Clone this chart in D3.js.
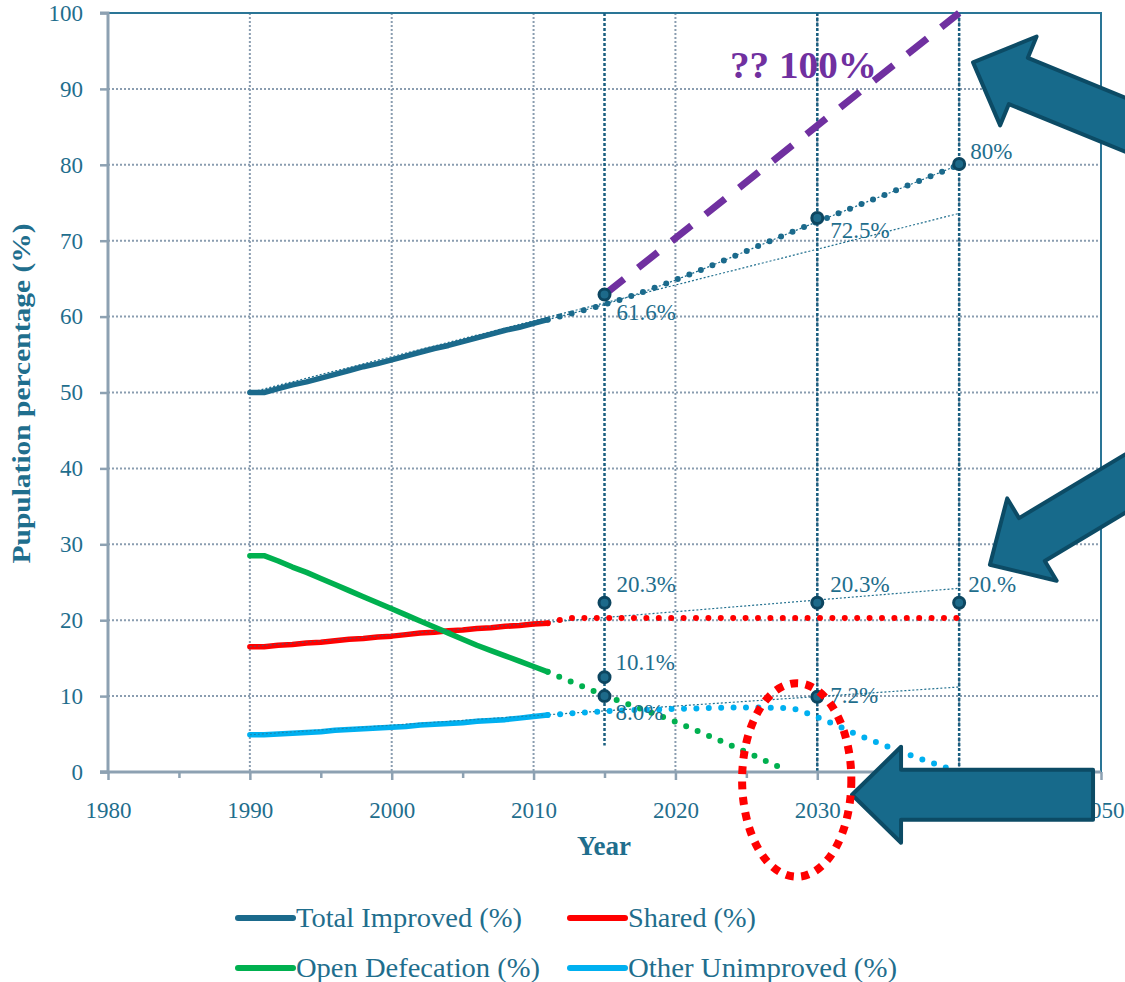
<!DOCTYPE html>
<html>
<head>
<meta charset="utf-8">
<script src="https://cdn.jsdelivr.net/npm/d3@7"></script>
<style>
  html, body { margin: 0; padding: 0; background: #ffffff; }
  svg { display: block; }
</style>
</head>
<body>
<svg id="chart" width="1125" height="982"></svg>
<script>
// ---- Observed series, 1990-2011 (% of population) ----
const years = [1990,1991,1992,1993,1994,1995,1996,1997,1998,1999,2000,
               2001,2002,2003,2004,2005,2006,2007,2008,2009,2010,2011];
const totalImproved   = [50.0,50.0,50.5,51.0,51.4,51.9,52.4,52.9,53.4,53.8,54.3,
                         54.8,55.3,55.8,56.2,56.7,57.2,57.7,58.2,58.6,59.1,59.6];
const shared          = [16.5,16.5,16.7,16.8,17.0,17.1,17.3,17.5,17.6,17.8,17.9,
                         18.1,18.3,18.4,18.6,18.7,18.9,19.0,19.2,19.3,19.5,19.6];
const openDefecation  = [28.5,28.5,27.8,27.0,26.3,25.5,24.7,23.9,23.1,22.3,21.5,
                         20.7,19.9,19.1,18.3,17.5,16.7,16.0,15.3,14.6,13.9,13.2];
const otherUnimproved = [4.9,4.9,5.0,5.1,5.2,5.3,5.5,5.6,5.7,5.8,5.9,
                         6.0,6.2,6.3,6.4,6.5,6.7,6.8,6.9,7.1,7.3,7.5];

// ---- Projections [year, %] ----
const projTotal  = [[2011,59.6],[2015,61.6],[2030,72.5],[2040,80.0]];
const projShared = [[2011,19.6],[2013,20.3],[2015,20.3],[2030,20.3],[2040,20.3]];
const projOpen   = [[2011,13.2],[2015,10.1],[2020,6.6],[2025,2.6],[2027.5,0.5]];
const projOther  = [[2011,7.5],[2015,8.0],[2020,8.3],[2025,8.5],[2028,8.4],
                    [2030,7.2],[2033,4.8],[2036,2.6],[2040,0.0]];

// ---- Linear trends 1990-2040 ----
const trendTotal  = [[1990,50.0],[2040,73.6]];
const trendShared = [[1990,16.5],[2040,24.2]];
const trendOther  = [[1990,4.9],[2040,11.2]];

// ---- Universal-access target ----
const target100 = [[2015,62.9],[2040,100]];

// ---- Milestone markers ----
const milestoneYears = [2015, 2030, 2040];
const markersTotal  = [[2015,62.9],[2030,73.0],[2040,80.1]];
const markersShared = [[2015,22.3],[2030,22.3],[2040,22.3]];
const markersOpen   = [[2015,12.5]];
const markersOther  = [[2015,10.0],[2030,9.9]];

// ---- Value labels (year, stated value, text) ----
const labelYears  = [2015, 2030, 2040, 2015, 2030, 2040, 2015, 2015, 2030];
const labelValues = [61.6, 72.5, 80.0, 20.3, 20.3, 20.3, 10.1, 8.0, 7.2];
const labelTexts  = ["61.6%","72.5%","80%","20.3%","20.3%","20.%","10.1%","8.0%","7.2%"];

// ---- Axis ticks ----
const xTicks = [1980,1990,2000,2010,2020,2030,2040,2050];
const xMinorTicks = [1985,1995,2005,2015,2025,2035,2045];
const yTicks = [0,10,20,30,40,50,60,70,80,90,100];

// ---- Legend ----
const legendNames  = ["Total Improved (%)","Shared (%)","Open Defecation (%)","Other Unimproved (%)"];
const legendColors = ["#1b6a8c","#ff0000","#00b04f","#00b0f0"];

// ======================================================================
const svg = d3.select("#chart");
const FONT = "'Liberation Serif','DejaVu Serif',serif";
const TEXT = "#1f6e8d";
const GRID = "#8a9db0";

const x = d3.scaleLinear().domain([1980, 2050]).range([108, 1101]);
const y = d3.scaleLinear().domain([0, 100]).range([772, 13]);

const line = d3.line().x(d => x(d[0])).y(d => y(d[1]));
const smooth = d3.line().x(d => x(d[0])).y(d => y(d[1])).curve(d3.curveMonotoneX);

// gridlines
const grid = svg.append("g");
grid.selectAll("line.h").data(yTicks.filter(v => v > 0 && v < 100)).join("line")
  .attr("x1", x(1980)).attr("x2", x(2050))
  .attr("y1", d => y(d)).attr("y2", d => y(d))
  .attr("stroke", GRID).attr("stroke-width", 2).attr("stroke-dasharray", "2 2");
grid.selectAll("line.v").data(xTicks.filter(v => v > 1980 && v < 2050)).join("line")
  .attr("x1", d => x(d)).attr("x2", d => x(d))
  .attr("y1", y(100)).attr("y2", y(0))
  .attr("stroke", GRID).attr("stroke-width", 2).attr("stroke-dasharray", "2 2");

// frame: top and right
svg.append("path")
  .attr("d", `M${x(1980)},${y(100)}H${x(2050)}V${y(0)}`)
  .attr("fill", "none").attr("stroke", "#2a7596").attr("stroke-width", 2);

// milestone verticals
svg.append("g").selectAll("line").data(milestoneYears).join("line")
  .attr("x1", d => x(d)).attr("x2", d => x(d))
  .attr("y1", y(100)).attr("y2", d => d === 2015 ? y(3.5) : y(0))
  .attr("stroke", "#1a5f80").attr("stroke-width", 2.5).attr("stroke-dasharray", "3 2");

// axes
const yAxis = svg.append("g").attr("transform", `translate(${x(1980)},0)`)
  .call(d3.axisLeft(y).tickValues(yTicks).tickSize(8).tickPadding(17).tickFormat(d3.format("d")));
const xAxis = svg.append("g").attr("transform", `translate(0,${y(0)})`)
  .call(d3.axisBottom(x).tickValues(xTicks).tickSize(8).tickPadding(22).tickFormat(d3.format("d")));
const xMinor = svg.append("g").attr("transform", `translate(0,${y(0)})`)
  .call(d3.axisBottom(x).tickValues(xMinorTicks).tickSize(6).tickFormat(""));
xMinor.select(".domain").remove();
[yAxis, xAxis, xMinor].forEach(g => {
  g.select(".domain").attr("stroke", "#8da1b2").attr("stroke-width", 3);
  g.selectAll(".tick line").attr("stroke", "#8da1b2").attr("stroke-width", 2.5);
  g.selectAll(".tick text").attr("fill", TEXT).style("font-family", FONT).style("font-size", "23px");
});
yAxis.select(".domain").attr("d", `M-8,${y(100)}H0V${y(0)}H-8`);
xAxis.select(".domain").attr("d", `M${x(1980) - 8},0H${x(2050)}`);

// axis titles
svg.append("text")
  .attr("transform", `translate(30,${(y(0) + y(100)) / 2 + 1}) rotate(-90)`)
  .attr("text-anchor", "middle")
  .attr("textLength", 340).attr("lengthAdjust", "spacingAndGlyphs")
  .style("font-family", FONT).style("font-size", "25px").style("font-weight", "bold")
  .attr("fill", TEXT).text("Pupulation percentage (%)");
svg.append("text")
  .attr("x", 604).attr("y", 855).attr("text-anchor", "middle")
  .style("font-family", FONT).style("font-size", "27px").style("font-weight", "bold")
  .attr("fill", TEXT).text("Year");

// linear trends
const trendG = svg.append("g");
[trendTotal, trendShared, trendOther].forEach(t => {
  trendG.append("path").attr("d", line(t))
    .attr("fill", "none").attr("stroke", "#22708f").attr("stroke-width", 1.2)
    .attr("stroke-dasharray", "2 2");
});

// observed series
const observed = [totalImproved, shared, openDefecation, otherUnimproved];
observed.forEach((vals, i) => {
  svg.append("path")
    .attr("d", line(years.map((yr, k) => [yr, vals[k]])))
    .attr("fill", "none").attr("stroke", legendColors[i]).attr("stroke-width", 5.5)
    .attr("stroke-linecap", "round").attr("stroke-linejoin", "round");
});
// trend stays visible through the lighter bands
[trendShared, trendOther].forEach(t => {
  svg.append("path").attr("d", line([t[0], [2011, t[0][1] + (t[1][1] - t[0][1]) * 21 / 50]]))
    .attr("fill", "none").attr("stroke", "#22708f").attr("stroke-width", 1)
    .attr("stroke-dasharray", "2 2").attr("opacity", 0.7);
});

// projections (round-dot lines)
svg.append("path").attr("d", smooth(projTotal))
  .attr("fill", "none").attr("stroke", legendColors[0]).attr("stroke-width", 1.2)
  .attr("stroke-dasharray", "2 2");
[projTotal, projShared, projOpen, projOther].forEach((p, i) => {
  svg.append("path").attr("d", smooth(p))
    .attr("fill", "none").attr("stroke", legendColors[i]).attr("stroke-width", 6)
    .attr("stroke-linecap", "round").attr("stroke-dasharray", "0 12.4");
});

// 100% target
svg.append("path").attr("d", line(target100))
  .attr("fill", "none").attr("stroke", "#7030a0").attr("stroke-width", 7)
  .attr("stroke-dasharray", "25 18");
svg.append("text")
  .attr("x", 730).attr("y", 78)
  .attr("textLength", 147).attr("lengthAdjust", "spacingAndGlyphs")
  .style("font-family", FONT).style("font-size", "37px").style("font-weight", "bold")
  .attr("fill", "#7030a0").text("?? 100%");

// milestone markers
const markG = svg.append("g");
[markersTotal, markersShared, markersOpen, markersOther].forEach(m => {
  markG.selectAll(null).data(m).join("circle")
    .attr("cx", d => x(d[0])).attr("cy", d => y(d[1])).attr("r", 5.5)
    .attr("fill", "#1d6a8a").attr("stroke", "#0d4660").attr("stroke-width", 3);
});

// value labels
const labelShift = [[12,16],[13,16],[11,-6],[12,-26],[13,-26],[9,-26],[11,-25],[11,9],[13,-14]];
svg.append("g").selectAll("text").data(labelTexts).join("text")
  .attr("x", (d, i) => x(labelYears[i]) + labelShift[i][0])
  .attr("y", (d, i) => y(labelValues[i]) + labelShift[i][1])
  .style("font-family", FONT).style("font-size", "23px")
  .attr("fill", TEXT).text(d => d);

// call-out arrows
function arrowPath(tx, ty, angleDeg, len) {
  const a = angleDeg * Math.PI / 180;
  const ux = Math.cos(a), uy = Math.sin(a), nx = -uy, ny = ux;
  const head = 49, headHalf = 48, shaftHalf = 25;
  const P = (al, pe) => [tx + ux * al + nx * pe, ty + uy * al + ny * pe];
  const pts = [P(0, 0), P(head, -headHalf), P(head, -shaftHalf), P(len, -shaftHalf),
               P(len, shaftHalf), P(head, shaftHalf), P(head, headHalf)];
  return "M" + pts.map(p => p.join(",")).join("L") + "Z";
}
const arrowNotes = [
  { year: 2040.98, value: 93.5, angle: 22.3, len: 230 },
  { year: 2042.17, value: 27.3, angle: -31, len: 230 },
  { year: 2032.45, value: -3.0, angle: 0, len: 241 }
];
svg.append("g").selectAll("path").data(arrowNotes).join("path")
  .attr("d", d => arrowPath(x(d.year), y(d.value), d.angle, d.len))
  .attr("fill", "#176a8b").attr("stroke", "#0c4b65").attr("stroke-width", 4)
  .attr("stroke-linejoin", "round");

// highlight ellipse
const focusYears = [2024.7, 2032.4];
const focusValues = [-13.8, 11.7];
svg.append("ellipse")
  .attr("cx", (x(focusYears[0]) + x(focusYears[1])) / 2)
  .attr("cy", (y(focusValues[0]) + y(focusValues[1])) / 2)
  .attr("rx", (x(focusYears[1]) - x(focusYears[0])) / 2)
  .attr("ry", (y(focusValues[0]) - y(focusValues[1])) / 2)
  .attr("fill", "none").attr("stroke", "#ff0000").attr("stroke-width", 8)
  .attr("stroke-dasharray", "8 7.5");

// legend
const legendPos = [[238, 918], [570, 918], [238, 968], [570, 968]];
const legendLen = [226, 128, 244, 269];
const lg = svg.append("g");
legendNames.forEach((name, i) => {
  const [lx, ly] = legendPos[i];
  lg.append("line").attr("x1", lx).attr("x2", lx + 55).attr("y1", ly).attr("y2", ly)
    .attr("stroke", legendColors[i]).attr("stroke-width", 6).attr("stroke-linecap", "round");
  lg.append("text").attr("x", lx + 58).attr("y", ly + 9)
    .attr("textLength", legendLen[i]).attr("lengthAdjust", "spacingAndGlyphs")
    .style("font-family", FONT).style("font-size", "28px")
    .attr("fill", TEXT).text(name);
});
</script>
</body>
</html>
